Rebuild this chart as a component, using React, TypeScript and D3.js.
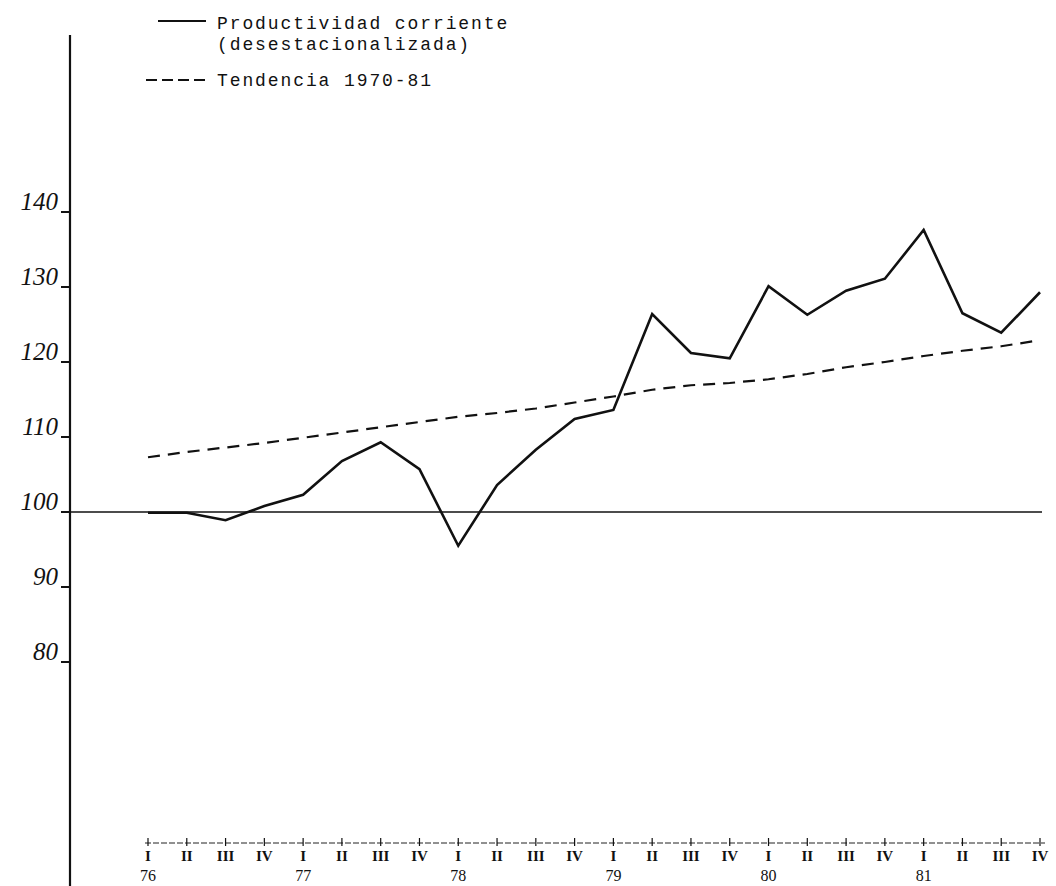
import React from "react";
import * as d3 from "d3";

const quarters = ["I","II","III","IV","I","II","III","IV","I","II","III","IV","I","II","III","IV","I","II","III","IV","I","II","III","IV"];
const years = ["76","77","78","79","80","81"];
const productividad = [99.9,99.9,98.9,100.8,102.3,106.8,109.3,105.7,95.5,103.6,108.3,112.4,113.6,126.4,121.2,120.5,130.1,126.3,129.5,131.1,137.6,126.5,123.9,129.3];
const tendencia = [107.3,108.0,108.6,109.2,109.9,110.6,111.3,112.0,112.7,113.2,113.8,114.6,115.4,116.3,116.9,117.2,117.7,118.4,119.3,120.0,120.8,121.5,122.1,122.9];
const yTicks = [140,130,120,110,100,90,80];
const legendLines = ["Productividad corriente","(desestacionalizada)","Tendencia 1970-81"];

export default function App() {
  const W = 1056, H = 886;
  const x = d3.scaleLinear().domain([0, 23]).range([148, 1040]);
  const y = d3.scaleLinear().domain([80, 140]).range([662, 212]);
  const line = d3.line<number>().x((_, i) => x(i)).y(d => y(d));
  const axisX = 70;
  const xAxisY = 843;
  const mono = "'Liberation Mono', 'DejaVu Sans Mono', monospace";
  const hand = "'Liberation Serif', 'DejaVu Serif', serif";
  return (
    <svg width={W} height={H} style={{ position: "absolute", left: 0, top: 0, background: "#fff" }}>
      {/* legend */}
      <line x1={158} x2={206} y1={21} y2={21} stroke="#111" strokeWidth={1.8} />
      <text x={217} y={29} fontFamily={mono} fontSize={18} letterSpacing={1.9} fill="#111">{legendLines[0]}</text>
      <text x={217} y={50} fontFamily={mono} fontSize={18} letterSpacing={1.9} fill="#111">{legendLines[1]}</text>
      <line x1={146} x2={206} y1={80} y2={80} stroke="#111" strokeWidth={1.8} strokeDasharray="11,5" />
      <text x={217} y={86} fontFamily={mono} fontSize={18} letterSpacing={1.9} fill="#111">{legendLines[2]}</text>

      {/* y axis */}
      <line x1={axisX} x2={axisX} y1={35} y2={H} stroke="#111" strokeWidth={2.2} />
      {yTicks.map(t => (
        <g key={t}>
          <line x1={axisX - 9} x2={axisX} y1={y(t)} y2={y(t)} stroke="#111" strokeWidth={2} />
          <text x={axisX - 12} y={y(t) - 2} textAnchor="end" fontFamily={hand} fontStyle="italic" fontSize={25} fill="#111">{t}</text>
        </g>
      ))}

      {/* 100 reference line */}
      <line x1={axisX} x2={1042} y1={y(100)} y2={y(100)} stroke="#111" strokeWidth={1.4} />

      {/* x axis */}
      <line x1={x(0) - 3} x2={x(23) + 5} y1={xAxisY} y2={xAxisY} stroke="#222" strokeWidth={1} strokeDasharray="6,2" />
      {quarters.map((q, i) => (
        <g key={i}>
          <line x1={x(i)} x2={x(i)} y1={xAxisY - 5} y2={xAxisY + 3} stroke="#111" strokeWidth={1.2} />
          <text x={x(i)} y={861} textAnchor="middle" fontFamily={hand} fontWeight="bold" fontSize={15} fill="#111">{q}</text>
        </g>
      ))}
      {years.map((yr, k) => (
        <text key={yr} x={x(k * 4)} y={881} textAnchor="middle" fontFamily={hand} fontSize={16} fill="#111">{yr}</text>
      ))}

      {/* trend */}
      <path d={line(tendencia) ?? ""} fill="none" stroke="#111" strokeWidth={2.2} strokeDasharray="12,8" />
      {/* productivity */}
      <path d={line(productividad) ?? ""} fill="none" stroke="#111" strokeWidth={2.6} strokeLinejoin="miter" />
    </svg>
  );
}
